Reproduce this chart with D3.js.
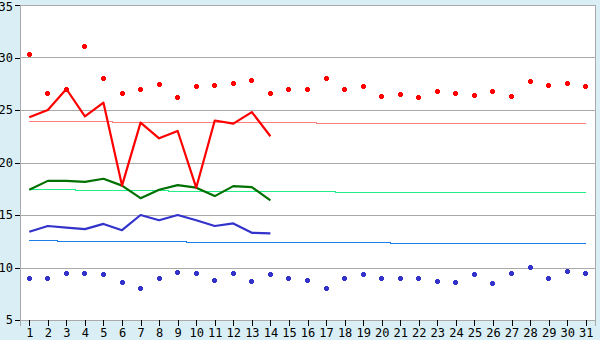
<!DOCTYPE html>
<html>
<head>
<meta charset="utf-8">
<script src="https://cdn.jsdelivr.net/npm/d3@7"></script>
<style>
  html, body { margin: 0; padding: 0; background: #d9eff5; }
  svg { display: block; }
  .axis text { font-family: "DejaVu Sans Mono", monospace; font-size: 12px; fill: #000; }
</style>
</head>
<body>
<svg id="chart" width="600" height="340"></svg>
<script>
// days of the month
const days = d3.range(1, 32);
const yTicks = [5, 10, 15, 20, 25, 30, 35];

// daily max / min points
const maxPoints = [30.3, 26.6, 27.0, 31.0, 28.0, 26.6, 27.0, 27.45, 26.2, 27.25,
  27.35, 27.55, 27.8, 26.6, 27.0, 27.0, 28.0, 27.0, 27.25, 26.3,
  26.5, 26.2, 26.8, 26.6, 26.4, 26.8, 26.3, 27.75, 27.35, 27.55, 27.25];
const minPoints = [9.0, 9.0, 9.45, 9.45, 9.35, 8.6, 8.0, 9.0, 9.55, 9.45,
  8.8, 9.45, 8.7, 9.35, 9.0, 8.8, 8.0, 9.0, 9.35, 9.0,
  9.0, 9.0, 8.7, 8.6, 9.35, 8.5, 9.45, 10.0, 9.0, 9.65, 9.45];

// measured lines (first 14 days)
const redLine   = [24.3, 25.0, 27.0, 24.4, 25.7, 17.8, 23.8, 22.3, 23.0, 17.6, 24.0, 23.7, 24.8, 22.5];
const greenLine = [17.4, 18.25, 18.25, 18.15, 18.45, 17.8, 16.6, 17.4, 17.85, 17.6, 16.8, 17.75, 17.65, 16.4];
const blueLine  = [13.4, 13.95, 13.8, 13.65, 14.15, 13.55, 15.0, 14.5, 15.0, 14.5, 13.95, 14.2, 13.3, 13.25];

// long-term averages
const redAvg   = [24.0, 24.0, 24.0, 24.0, 24.0, 23.9, 23.9, 23.9, 23.9, 23.9, 23.9, 23.9, 23.9, 23.9, 23.9, 23.9,
  23.8, 23.8, 23.8, 23.8, 23.8, 23.8, 23.8, 23.8, 23.8, 23.8, 23.8, 23.8, 23.8, 23.8, 23.8];
const greenAvg = [17.5, 17.5, 17.5, 17.4, 17.4, 17.4, 17.4, 17.4, 17.3, 17.3, 17.3, 17.3, 17.3, 17.3, 17.3, 17.3, 17.3,
  17.2, 17.2, 17.2, 17.2, 17.2, 17.2, 17.2, 17.2, 17.2, 17.2, 17.2, 17.2, 17.2, 17.2];
const blueAvg  = [12.6, 12.6, 12.5, 12.5, 12.5, 12.5, 12.5, 12.5, 12.5, 12.4, 12.4, 12.4, 12.4, 12.4, 12.4, 12.4,
  12.4, 12.4, 12.4, 12.4, 12.3, 12.3, 12.3, 12.3, 12.3, 12.3, 12.3, 12.3, 12.3, 12.3, 12.3];

const margin = { top: 5, right: 5, bottom: 20, left: 20 };
const width = 600 - margin.left - margin.right;
const height = 340 - margin.top - margin.bottom;

const svg = d3.select('#chart');
const g = svg.append('g').attr('transform', `translate(${margin.left},${margin.top})`);

const x = d3.scalePoint().domain(days).range([0, width]).padding(0.5);
const y = d3.scaleLinear().domain([5, 35]).range([height, 0]);

// plot background
g.append('rect')
  .attr('width', width).attr('height', height)
  .attr('fill', '#fff');

// grid
g.append('g')
  .selectAll('line')
  .data(yTicks)
  .enter().append('line')
    .attr('x1', 0).attr('x2', width)
    .attr('y1', d => Math.round(y(d)) + 0.5)
    .attr('y2', d => Math.round(y(d)) + 0.5)
    .attr('stroke', '#aaa')
    .attr('shape-rendering', 'crispEdges');

// right border
g.append('line')
  .attr('x1', width + 0.5).attr('x2', width + 0.5)
  .attr('y1', 0).attr('y2', height)
  .attr('stroke', '#aaa')
  .attr('shape-rendering', 'crispEdges');

// axes
const yAxis = g.append('g').attr('class', 'axis')
  .call(d3.axisLeft(y).tickValues(yTicks).tickSize(5).tickPadding(2));
const xAxis = g.append('g').attr('class', 'axis')
  .attr('transform', `translate(0,${height})`)
  .call(d3.axisBottom(x).tickSize(6).tickPadding(2));
[yAxis, xAxis].forEach(a => {
  a.select('.domain').attr('stroke', '#aaa').attr('shape-rendering', 'crispEdges');
  a.selectAll('.tick line').attr('stroke', '#000').attr('shape-rendering', 'crispEdges');
});
// keep the top label inside the picture
yAxis.selectAll('.tick text')
  .filter(d => d === 35)
  .attr('dy', '0.32em')
  .attr('y', 2);

// average lines (step)
const avgLine = d3.line()
  .x((d, i) => x(days[i]))
  .y(d => Math.round(y(d)) + 0.5)
  .curve(d3.curveStep);

[[redAvg, '#ff7f7f'], [greenAvg, '#22ee88'], [blueAvg, '#1a7ee8']].forEach(([data, color]) => {
  g.append('path')
    .datum(data)
    .attr('d', avgLine)
    .attr('fill', 'none')
    .attr('stroke', color)
    .attr('stroke-width', 1)
    .attr('shape-rendering', 'crispEdges');
});

// measured lines
const valLine = d3.line()
  .x((d, i) => x(days[i]))
  .y(d => y(d));

[[blueLine, '#3333cc'], [greenLine, '#007000'], [redLine, '#ff0000']].forEach(([data, color]) => {
  g.append('path')
    .datum(data)
    .attr('d', valLine)
    .attr('fill', 'none')
    .attr('stroke', color)
    .attr('stroke-width', 2.2)
    .attr('stroke-linejoin', 'round');
});

// point markers: small chunky plus
const chunky = {
  draw(ctx) {
    ctx.moveTo(-1.5, -2.5); ctx.lineTo(1.5, -2.5); ctx.lineTo(1.5, -1.5); ctx.lineTo(2.5, -1.5);
    ctx.lineTo(2.5, 1.5); ctx.lineTo(1.5, 1.5); ctx.lineTo(1.5, 2.5); ctx.lineTo(-1.5, 2.5);
    ctx.lineTo(-1.5, 1.5); ctx.lineTo(-2.5, 1.5); ctx.lineTo(-2.5, -1.5); ctx.lineTo(-1.5, -1.5);
    ctx.closePath();
  }
};
const marker = d3.symbol().type(chunky);
[[maxPoints, '#ff0000'], [minPoints, '#3333cc']].forEach(([data, color]) => {
  g.append('g')
    .selectAll('path')
    .data(data)
    .enter().append('path')
      .attr('d', marker)
      .attr('transform', (d, i) => `translate(${Math.floor(x(days[i])) + 0.5},${Math.floor(y(d)) + 0.5})`)
      .attr('fill', color)
      .attr('shape-rendering', 'crispEdges');
});
</script>
</body>
</html>
